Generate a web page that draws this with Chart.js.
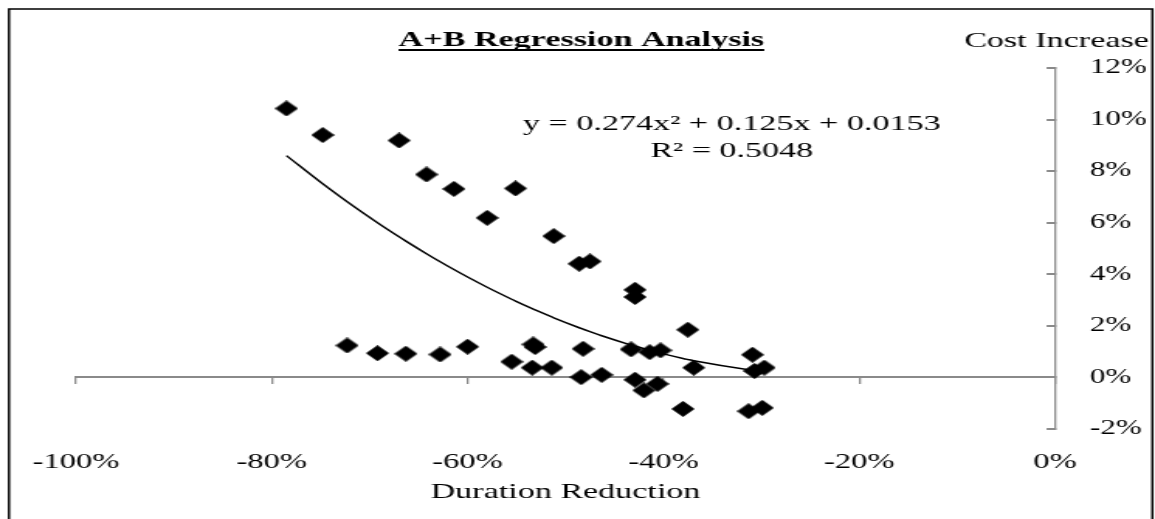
<!DOCTYPE html>
<html>
<head>
<meta charset="utf-8">
<script src="https://cdn.jsdelivr.net/npm/chart.js@4"></script>
<style>
  html, body { margin: 0; padding: 0; background: #fff; overflow: hidden; }
  /* the chart is laid out narrow and stretched sideways to the page width */
  #wrap { width: 745px; height: 519px; transform: scaleX(1.55034); transform-origin: 0 0; }
</style>
</head>
<body>
<div id="wrap"><canvas id="chart"></canvas></div>
<script>
// duration reduction (%) and cost increase (%) for each project
var duration = [-78.5, -74.8, -67.0, -64.2, -61.4, -55.1, -58.0, -51.2, -48.6, -47.5, -42.9, -42.9,
                -72.3, -69.2, -66.3, -62.8, -60.0, -55.5, -53.3, -53.1, -53.4, -51.4, -48.2, -48.4,
                -46.3, -43.3, -41.4, -40.3, -42.9, -42.0, -40.6, -37.5, -36.9, -38.0, -30.9, -30.7,
                -29.7, -31.3, -29.9];
var cost = [10.43, 9.40, 9.19, 7.87, 7.31, 7.33, 6.19, 5.48, 4.41, 4.50, 3.40, 3.12,
            1.24, 0.94, 0.92, 0.89, 1.19, 0.61, 1.28, 1.18, 0.38, 0.38, 1.11, 0.01,
            0.10, 1.09, 0.98, 1.05, -0.09, -0.50, -0.25, 1.85, 0.38, -1.22, 0.88, 0.25,
            0.38, -1.31, -1.18];

// polynomial trendline y = a x^2 + b x + c (x, y as fractions)
var trendCoef = [0.274, 0.125, 0.0153];
var rSquared = 0.5048;

var xTicks = [-100, -80, -60, -40, -20, 0];
var yTicks = [-2, 0, 2, 4, 6, 8, 10, 12];

var chartTitle = 'A+B Regression Analysis';
var xTitle = 'Duration Reduction';
var yTitle = 'Cost Increase';

var serif = 'Liberation Serif';
var axisGrey = '#8a8a8a';

var points = duration.map(function (d, i) { return { x: d, y: cost[i] }; });

// trendline evaluated at the observed durations
var trend = duration.slice().sort(function (a, b) { return a - b; }).map(function (d) {
  var f = d / 100;
  return { x: d, y: 100 * (trendCoef[0] * f * f + trendCoef[1] * f + trendCoef[2]) };
});

function diamond(w, h) {
  var c = document.createElement('canvas');
  c.width = w; c.height = h;
  var g = c.getContext('2d');
  g.fillStyle = '#000';
  g.beginPath();
  g.moveTo(w / 2, 0); g.lineTo(w, h / 2); g.lineTo(w / 2, h); g.lineTo(0, h / 2);
  g.closePath();
  g.fill();
  return c;
}

function pct(v) { return v + '%'; }
function fixedTicks(list) {
  return function (scale) { scale.ticks = list.map(function (v) { return { value: v }; }); };
}

var chartText = {
  id: 'chartText',
  afterDraw: function (chart) {
    var ctx = chart.ctx;
    ctx.save();
    ctx.strokeStyle = '#000';
    ctx.lineWidth = 1.5;
    ctx.strokeRect(5.8, 9, 737.5, 560);

    ctx.fillStyle = '#000';
    ctx.textBaseline = 'alphabetic';
    ctx.textAlign = 'center';
    ctx.font = 'bold 22px "' + serif + '"';
    var tx = 375;
    ctx.fillText(chartTitle, tx, 46);
    var w = ctx.measureText(chartTitle).width;
    ctx.fillRect(tx - w / 2, 49, w, 2);

    ctx.font = '22px "' + serif + '"';
    ctx.textAlign = 'right';
    ctx.fillText(yTitle, 741, 47);

    ctx.textAlign = 'center';
    var eq = 'y = ' + trendCoef[0] + 'x\u00b2 + ' + trendCoef[1] + 'x + ' + trendCoef[2];
    ctx.fillText(eq, 472, 130);
    ctx.fillText('R\u00b2 = ' + rSquared, 472, 157);
    ctx.restore();
  }
};

Chart.defaults.font.family = serif;

new Chart(document.getElementById('chart'), {
  type: 'scatter',
  data: {
    datasets: [{
      data: points,
      xAxisID: 'x',
      yAxisID: 'y',
      pointStyle: diamond(15, 16),
      backgroundColor: '#000',
      borderColor: '#000'
    }, {
      data: trend,
      xAxisID: 'x',
      yAxisID: 'y',
      showLine: true,
      pointRadius: 0,
      borderColor: '#000',
      borderWidth: 1.5,
      cubicInterpolationMode: 'monotone'
    }]
  },
  options: {
    responsive: true,
    maintainAspectRatio: false,
    animation: false,
    layout: { padding: { left: 46.1, right: 5.2, top: 68, bottom: 14 } },
    plugins: { legend: { display: false }, tooltip: { enabled: false } },
    scales: {
      x: {
        type: 'linear', position: { y: 0 }, min: -100, max: 0,
        afterBuildTicks: fixedTicks(xTicks),
        ticks: { display: false },
        grid: { drawOnChartArea: false, drawTicks: true, tickLength: 6, color: axisGrey, lineWidth: 1.3 },
        border: { color: axisGrey, width: 2 }
      },
      xb: {
        type: 'linear', position: 'bottom', min: -100, max: 0,
        afterBuildTicks: fixedTicks(xTicks),
        afterFit: function (s) { s.height = 76; },
        ticks: { font: { size: 21 }, color: '#000', padding: 21, maxRotation: 0, autoSkip: false, callback: pct },
        grid: { display: false, drawTicks: false },
        border: { display: false },
        title: { display: true, text: xTitle, color: '#000', font: { size: 22 }, padding: { top: 3, bottom: 0 } }
      },
      y: {
        type: 'linear', position: 'right', min: -2, max: 12,
        afterBuildTicks: fixedTicks(yTicks),
        afterFit: function (s) { s.width = 59.3; },
        ticks: { font: { size: 20 }, color: '#000', padding: 28, callback: pct },
        grid: { drawOnChartArea: false, tickLength: -5.4, color: axisGrey, lineWidth: 2 },
        border: { color: axisGrey, width: 1.3 }
      }
    }
  },
  plugins: [chartText]
});
</script>
</body>
</html>
